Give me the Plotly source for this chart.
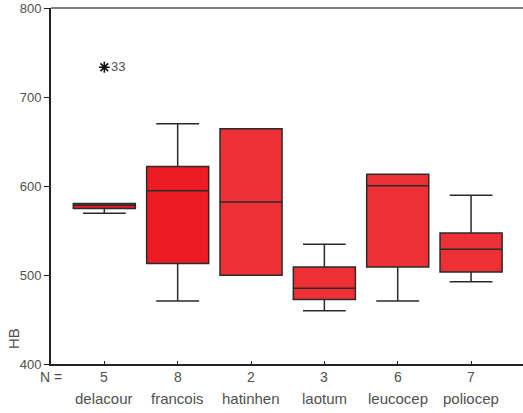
import plotly.graph_objects as go

# Haemoglobin (HB) by group
categories = ["delacour", "francois", "hatinhen", "laotum", "leucocep", "poliocep"]
counts = [5, 8, 2, 3, 6, 7]
q1 = [574.6, 512.9, 499.8, 472.6, 509.1, 503.5]
median = [578.5, 594.8, 582.0, 485.2, 600.4, 529.0]
q3 = [580.2, 622.0, 664.3, 509.1, 613.1, 547.3]
lower_whisker = [569.3, 470.7, 499.8, 459.8, 470.7, 492.3]
upper_whisker = [580.2, 669.9, 664.3, 534.6, 613.1, 589.5]
fill_colors = ["#ED1C24", "#ED1C24", "#EE3136", "#EE3035", "#EE3035", "#EE3035"]

# Extreme value
outlier_group = ["delacour"]
outlier_value = [733.4]
outlier_case = ["33"]

y_ticks = [400, 500, 600, 700, 800]

TEXT = "#505050"
FONT = "Liberation Sans, Arial, sans-serif"

fig = go.Figure()

for i, cat in enumerate(categories):
    fig.add_trace(go.Box(
        x=[cat],
        q1=[q1[i]], median=[median[i]], q3=[q3[i]],
        lowerfence=[lower_whisker[i]], upperfence=[upper_whisker[i]],
        width=0.846,
        whiskerwidth=0.69,
        fillcolor=fill_colors[i],
        line=dict(color="#2b2b2b", width=1.5),
        boxpoints=False,
        hoverinfo="skip",
        showlegend=False,
    ))

fig.add_trace(go.Scatter(
    x=outlier_group, y=outlier_value,
    mode="markers+text",
    text=outlier_case,
    textposition="middle right",
    textfont=dict(family=FONT, size=13, color=TEXT),
    marker=dict(symbol="asterisk-open", size=9, color="#111111",
                line=dict(color="#111111", width=1.6)),
    hoverinfo="skip",
    showlegend=False,
))

# Group sizes and names under the axis
annotations = [dict(
    x=0, y=0, xref="paper", yref="paper", yshift=-13,
    text="N =", showarrow=False, xanchor="center", yanchor="middle",
    font=dict(family=FONT, size=14, color=TEXT),
)]
for cat, n in zip(categories, counts):
    annotations.append(dict(
        x=cat, y=0, xref="x", yref="paper", yshift=-13,
        text=str(n), showarrow=False, xanchor="center", yanchor="middle",
        font=dict(family=FONT, size=14, color=TEXT),
    ))
    annotations.append(dict(
        x=cat, y=0, xref="x", yref="paper", yshift=-34,
        text=cat, showarrow=False, xanchor="center", yanchor="middle",
        font=dict(family=FONT, size=15, color=TEXT),
    ))
annotations.append(dict(
    x=0, y=0, xref="paper", yref="paper", xshift=-38, yshift=25,
    text="HB", textangle=-90, showarrow=False, xanchor="center", yanchor="middle",
    font=dict(family=FONT, size=15, color=TEXT),
))

fig.update_layout(
    width=523, height=413,
    margin=dict(l=51, r=0, t=8, b=49),
    paper_bgcolor="white", plot_bgcolor="white",
    font=dict(family=FONT, size=13, color=TEXT),
    annotations=annotations,
    shapes=[dict(type="line", xref="paper", yref="paper", x0=0, x1=1, y0=1, y1=1,
                 line=dict(color="#808080", width=2))],
    xaxis=dict(
        type="category", categoryorder="array", categoryarray=categories,
        range=[-0.727, 5.708],
        showticklabels=False, showgrid=False, zeroline=False,
        showline=True, linecolor="#222222", linewidth=2,
        ticks="inside", ticklen=3, tickcolor="#222222", tickwidth=1,
    ),
    yaxis=dict(
        range=[400, 800], tickvals=y_ticks,
        showgrid=False, zeroline=False,
        showline=True, linecolor="#222222", linewidth=2,
        ticks="outside", ticklen=5, tickcolor="#222222", tickwidth=1,
        tickfont=dict(family=FONT, size=13, color=TEXT),
    ),
)

fig.write_html("out.html")
